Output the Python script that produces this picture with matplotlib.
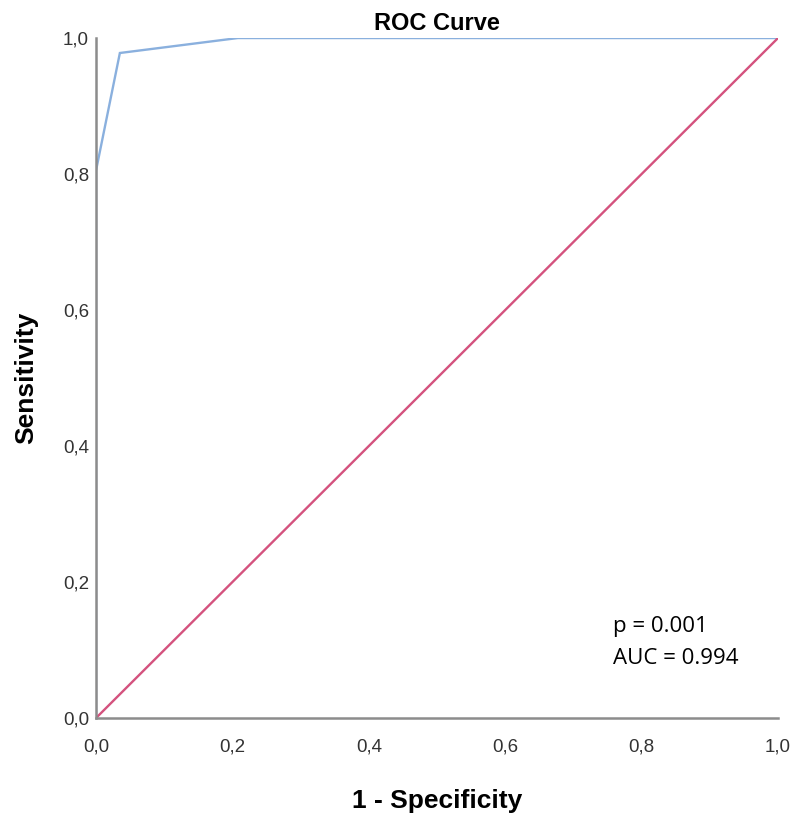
import matplotlib
matplotlib.use("Agg")
import matplotlib.pyplot as plt

fpr = [0.0, 0.0, 0.035, 0.208, 1.0]
tpr = [0.0, 0.805, 0.978, 1.0, 1.0]
ref_x = [0.0, 1.0]
ref_y = [0.0, 1.0]
ticks = [0.0, 0.2, 0.4, 0.6, 0.8, 1.0]
tick_labels = ["0,0", "0,2", "0,4", "0,6", "0,8", "1,0"]

plt.rcParams['font.family'] = ['Liberation Sans', 'DejaVu Sans']
fig = plt.figure(figsize=(8, 8.18), dpi=100)
ax = fig.add_axes([0.12, 0.1222, 0.8525, 0.8313])
ax.plot(fpr, tpr, color="#8AB0DE", lw=1.7, solid_joinstyle="miter")
ax.plot(ref_x, ref_y, color="#D4527E", lw=1.7)
ax.set_xlim(0, 1)
ax.set_ylim(0, 1)
ax.set_xticks(ticks)
ax.set_xticklabels(tick_labels)
ax.set_yticks(ticks)
ax.set_yticklabels(tick_labels)
ax.tick_params(length=0, labelsize=13.5, colors="#333333")
ax.tick_params(axis="x", pad=15)
ax.tick_params(axis="y", pad=5)
for s in ["top", "right"]:
    ax.spines[s].set_visible(False)
for s in ["left", "bottom"]:
    ax.spines[s].set_color("#8C8C8C")
    ax.spines[s].set_linewidth(1.8)
ax.set_xlabel("1 - Specificity", fontsize=19, fontweight="bold", labelpad=24)
ax.set_ylabel("Sensitivity", fontsize=19, fontweight="bold", labelpad=18)
ax.set_title("ROC Curve", fontsize=17, fontweight="bold", pad=6)
ax.text(0.758, 0.135, "p = 0.001", fontsize=16, family=["Open Sans", "DejaVu Sans"], transform=ax.transAxes, va="center")
ax.text(0.758, 0.088, "AUC = 0.994", fontsize=16, family=["Open Sans", "DejaVu Sans"], transform=ax.transAxes, va="center")
fig.savefig("out.png", dpi=100)
